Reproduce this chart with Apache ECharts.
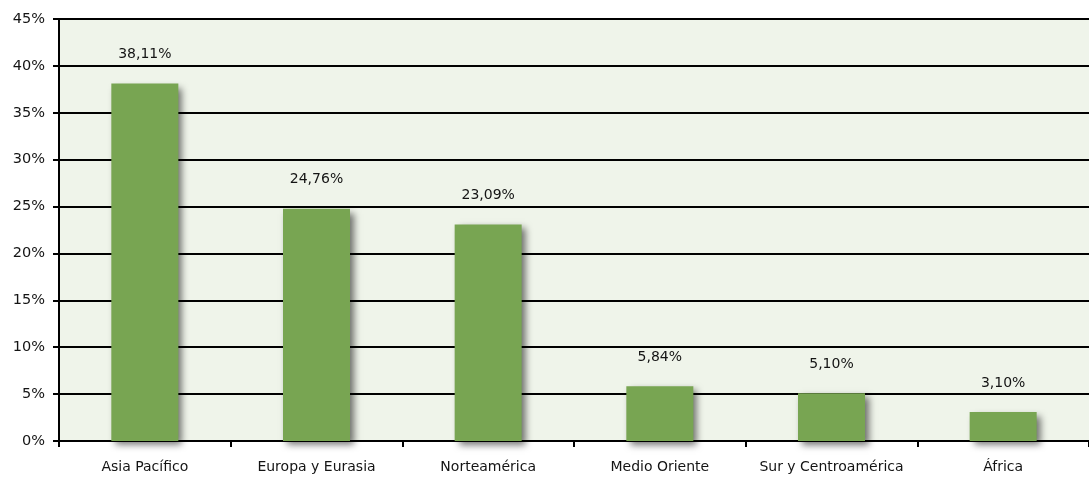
<!DOCTYPE html>
<html>
<head>
<meta charset="utf-8">
<script src="https://cdn.jsdelivr.net/npm/echarts@6/dist/echarts.min.js"></script>
<style>
  html, body { margin: 0; padding: 0; background: #ffffff; }
  #chart { width: 1089px; height: 479px; }
</style>
</head>
<body>
<div id="chart"></div>
<script>
// Regional share (%) by area
const categories = ['Asia Pacífico', 'Europa y Eurasia', 'Norteamérica', 'Medio Oriente', 'Sur y Centroamérica', 'África'];
const shares = [38.11, 24.76, 23.09, 5.84, 5.10, 3.10];

const FONT = '"DejaVu Sans", "Noto Sans", sans-serif';
const fmtPct = v => v.toFixed(2).replace('.', ',') + '%';

const chart = echarts.init(document.getElementById('chart'), null, { renderer: 'canvas' });
chart.setOption({
  animation: false,
  backgroundColor: '#ffffff',
  grid: {
    left: 59, right: 0, top: 19, bottom: 38,
    show: true, backgroundColor: '#eff4ea', borderWidth: 0
  },
  xAxis: {
    type: 'category',
    data: categories,
    axisLine: { show: true, lineStyle: { color: '#000', width: 2 } },
    axisTick: { show: true, interval: 0, alignWithLabel: false, length: 6, lineStyle: { color: '#000', width: 2 } },
    axisLabel: { interval: 0, color: '#141414', fontFamily: FONT, fontSize: 14, margin: 19 }
  },
  yAxis: {
    type: 'value',
    min: 0, max: 45, interval: 5,
    axisLine: { show: true, lineStyle: { color: '#000', width: 2 } },
    axisTick: { show: true, length: 6, lineStyle: { color: '#000', width: 2 } },
    splitLine: { show: true, lineStyle: { color: '#000', width: 2 } },
    axisLabel: { color: '#141414', fontFamily: FONT, fontSize: 14.5, margin: 14, formatter: v => v + '%' }
  },
  series: [{
    type: 'bar',
    data: shares,
    barWidth: 67,
    itemStyle: {
      color: '#78a552',
      shadowColor: 'rgba(0,0,0,0.55)',
      shadowBlur: 7,
      shadowOffsetX: 4,
      shadowOffsetY: 4
    },
    label: {
      show: true,
      position: 'top',
      distance: 22,
      color: '#141414',
      fontFamily: FONT,
      fontSize: 14,
      formatter: p => fmtPct(p.value)
    }
  }]
});
</script>
</body>
</html>
